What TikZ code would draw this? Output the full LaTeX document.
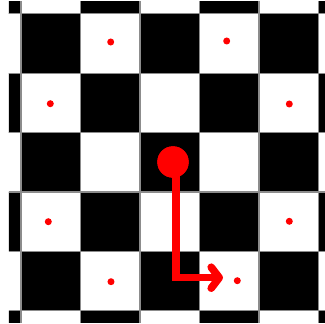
\documentclass[tikz,border=0pt]{standalone}
\usetikzlibrary{arrows.meta}
\begin{document}
\begin{tikzpicture}[x=1pt,y=-1pt,
  gridline/.style={draw=gray!90,line width=1.2pt},
  target/.style={circle,fill=red,inner sep=0pt,minimum size=7pt},
  piece/.style={circle,fill=red,inner sep=0pt,minimum size=31.4pt},
  move/.style={draw=red,line width=7.6pt,line join=miter,
    -{Straight Barb[length=8pt,width=21pt,round]}}]
\useasboundingbox (0,0) rectangle (325,324);
\begin{scope}
  \clip (9,1.7) rectangle (325,323);
  \fill[white] (9,1.7) rectangle (325,323);
  \foreach \i in {-1,...,5}{
    \foreach \j in {-1,...,5}{
      \pgfmathtruncatemacro\myparity{mod(\i+\j+10,2)}
      \ifnum\myparity=0
        \fill[black] ({21+59.5*\i},{13.9+59.4*\j}) rectangle ({21+59.5*(\i+1)},{13.9+59.4*(\j+1)});
      \fi
    }
  }
  \foreach \k in {0,...,5}{
    \draw[gridline] ({21+59.5*\k},0) -- ({21+59.5*\k},324);
    \draw[gridline] (0,{13.9+59.4*\k}) -- (325,{13.9+59.4*\k});
  }
\end{scope}
\node[target] (t1) at (110.7,42) {};
\node[target] (t2) at (226.7,41) {};
\node[target] (t3) at (50.3,103.7) {};
\node[target] (t4) at (289.3,104) {};
\node[target] (t5) at (48.3,221.7) {};
\node[target] (t6) at (289.3,221.3) {};
\node[target] (t7) at (111,281.7) {};
\node[target] (t8) at (237.3,280.7) {};
\node[piece] (p) at (173,162) {};
\coordinate (start) at (176.1,162);
\coordinate (end) at (223,277.7);
\draw[move] (start) |- (end);
\node[piece] at (p) {};
\end{tikzpicture}
\end{document}
